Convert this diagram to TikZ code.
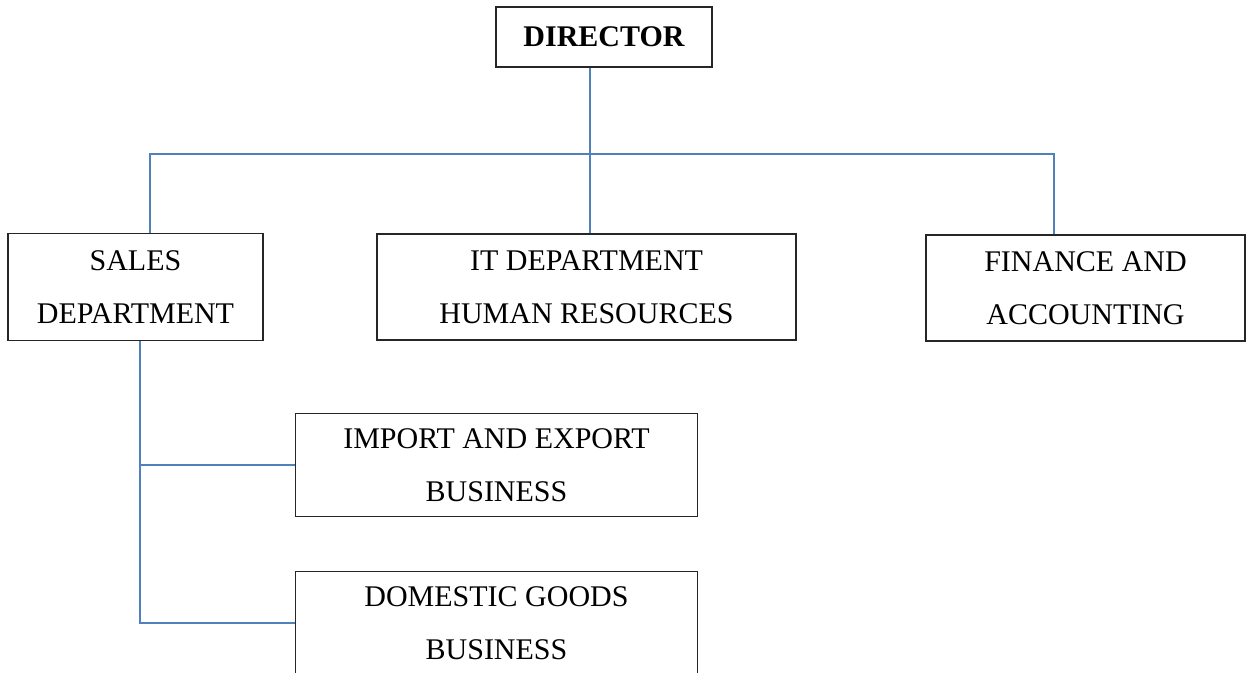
\documentclass[tikz,border=0pt]{standalone}
\usepackage{fontspec}
\setmainfont{Liberation Serif}
\definecolor{linkblue}{RGB}{79,129,189}
\begin{document}
\begin{tikzpicture}[x=1pt,y=1pt,font={\fontsize{30}{53}\selectfont}]
    \tikzstyle{block} = [draw=black!85,line width=1.5pt,rectangle,align=center,inner sep=0pt]
    \tikzstyle{link} = [draw=linkblue,line width=2pt]
    \useasboundingbox (0,0) rectangle (1249,-672);

    \node [block,minimum width=216,minimum height=60,font={\fontsize{30}{36}\selectfont\bfseries}] (director) at (604,-37) {DIRECTOR};
    \node [block,minimum width=255,minimum height=107] (sales) at (135.5,-287) {SALES\\DEPARTMENT};
    \node [block,minimum width=419,minimum height=106] (it) at (586.5,-287) {IT DEPARTMENT\\HUMAN RESOURCES};
    \node [block,minimum width=319,minimum height=106] (finance) at (1085.5,-288) {FINANCE AND\\ACCOUNTING};
    \node [block,minimum width=402,minimum height=103] (import) at (496.5,-465) {IMPORT AND EXPORT\\BUSINESS};
    \node [block,minimum width=402,minimum height=103] (domestic) at (496.5,-623) {DOMESTIC GOODS\\BUSINESS};

    \coordinate (busL) at (150,-154);
    \coordinate (busR) at (1054,-154);
    \coordinate (trunk) at (590,-154);
    \coordinate (spine) at (140,-400);

    \draw [link] (busL |- sales.north) -- (busL) -- (busR) -- (busR |- finance.north);
    \draw [link] (trunk |- director.south) -- (trunk |- it.north);
    \draw [link] (spine |- sales.south) -- (spine |- domestic.west) -- (domestic.west);
    \draw [link] (spine |- import.west) -- (import.west);
  \end{tikzpicture}
\end{document}
